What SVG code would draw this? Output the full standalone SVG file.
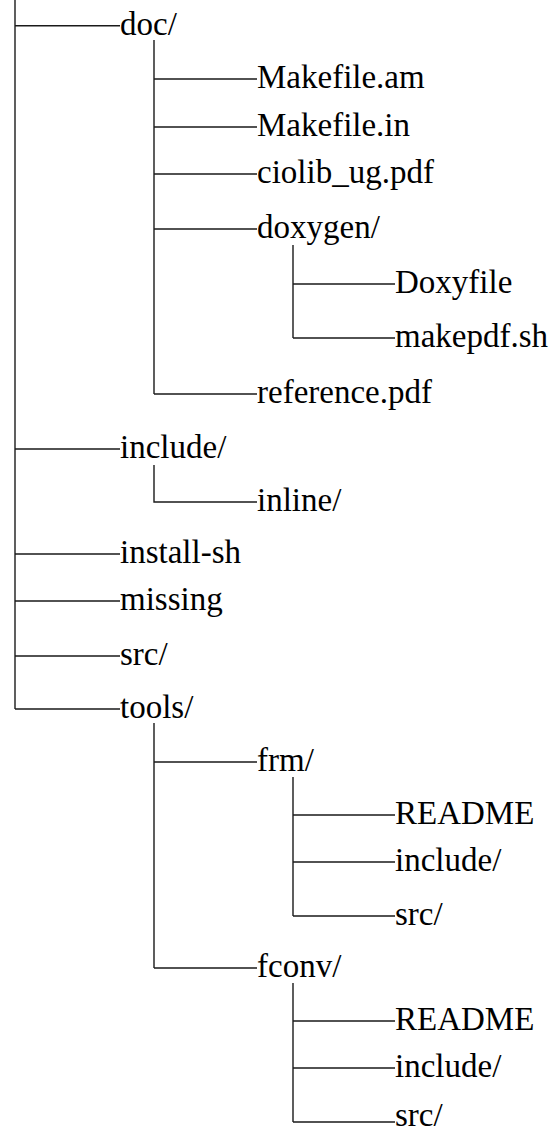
<svg xmlns="http://www.w3.org/2000/svg" width="554" height="1133" viewBox="0 0 554 1133">
  <style>
    .edge { stroke: #1a1a1a; stroke-width: 1.4; fill: none; }
    .label { font-family: "Liberation Serif", "Times New Roman", serif; font-size: 33px; fill: #000; }
  </style>
  <rect width="554" height="1133" fill="#fff"/>

  <!-- tree connectors: vertical trunks and horizontal branches -->
  <g id="connectors">
    <!-- root trunk -->
    <path class="edge" d="M15,0 V709"/>
    <path class="edge" d="M15,25.7 H120 M15,449 H120 M15,554 H120 M15,601 H120 M15,656 H120 M15,709 H120"/>
    <!-- doc/ -->
    <path class="edge" d="M154,40 V394 M154,79 H257 M154,127 H257 M154,174 H257 M154,229 H257 M154,394 H257"/>
    <!-- doc/doxygen/ -->
    <path class="edge" d="M293,245 V338 M293,284 H395 M293,338 H395"/>
    <!-- include/ -->
    <path class="edge" d="M154,465 V502 H257"/>
    <!-- tools/ -->
    <path class="edge" d="M154,723 V968 M154,762 H257 M154,968 H257"/>
    <!-- tools/frm/ -->
    <path class="edge" d="M293,777 V916 M293,815 H395 M293,862 H395 M293,916 H395"/>
    <!-- tools/fconv/ -->
    <path class="edge" d="M293,983 V1122 M293,1021 H395 M293,1068 H395 M293,1122 H395"/>
  </g>

  <g id="doc"><text class="label" x="120" y="35">doc/</text></g>
  <g id="doc-makefile-am"><text class="label" x="257" y="88">Makefile.am</text></g>
  <g id="doc-makefile-in"><text class="label" x="257" y="136">Makefile.in</text></g>
  <g id="doc-ciolib-ug"><text class="label" x="257" y="183">ciolib_ug.pdf</text></g>
  <g id="doc-doxygen"><text class="label" x="257" y="238">doxygen/</text></g>
  <g id="doxygen-doxyfile"><text class="label" x="395" y="293">Doxyfile</text></g>
  <g id="doxygen-makepdf"><text class="label" x="395" y="347">makepdf.sh</text></g>
  <g id="doc-reference"><text class="label" x="257" y="403">reference.pdf</text></g>
  <g id="include"><text class="label" x="120" y="458">include/</text></g>
  <g id="include-inline"><text class="label" x="257" y="511">inline/</text></g>
  <g id="install-sh"><text class="label" x="120" y="563">install-sh</text></g>
  <g id="missing"><text class="label" x="120" y="610">missing</text></g>
  <g id="src"><text class="label" x="120" y="665">src/</text></g>
  <g id="tools"><text class="label" x="120" y="718">tools/</text></g>
  <g id="tools-frm"><text class="label" x="257" y="771">frm/</text></g>
  <g id="frm-readme"><text class="label" x="395" y="824">README</text></g>
  <g id="frm-include"><text class="label" x="395" y="871">include/</text></g>
  <g id="frm-src"><text class="label" x="395" y="925">src/</text></g>
  <g id="tools-fconv"><text class="label" x="257" y="977">fconv/</text></g>
  <g id="fconv-readme"><text class="label" x="395" y="1030">README</text></g>
  <g id="fconv-include"><text class="label" x="395" y="1077">include/</text></g>
  <g id="fconv-src"><text class="label" x="395" y="1126">src/</text></g>
</svg>
